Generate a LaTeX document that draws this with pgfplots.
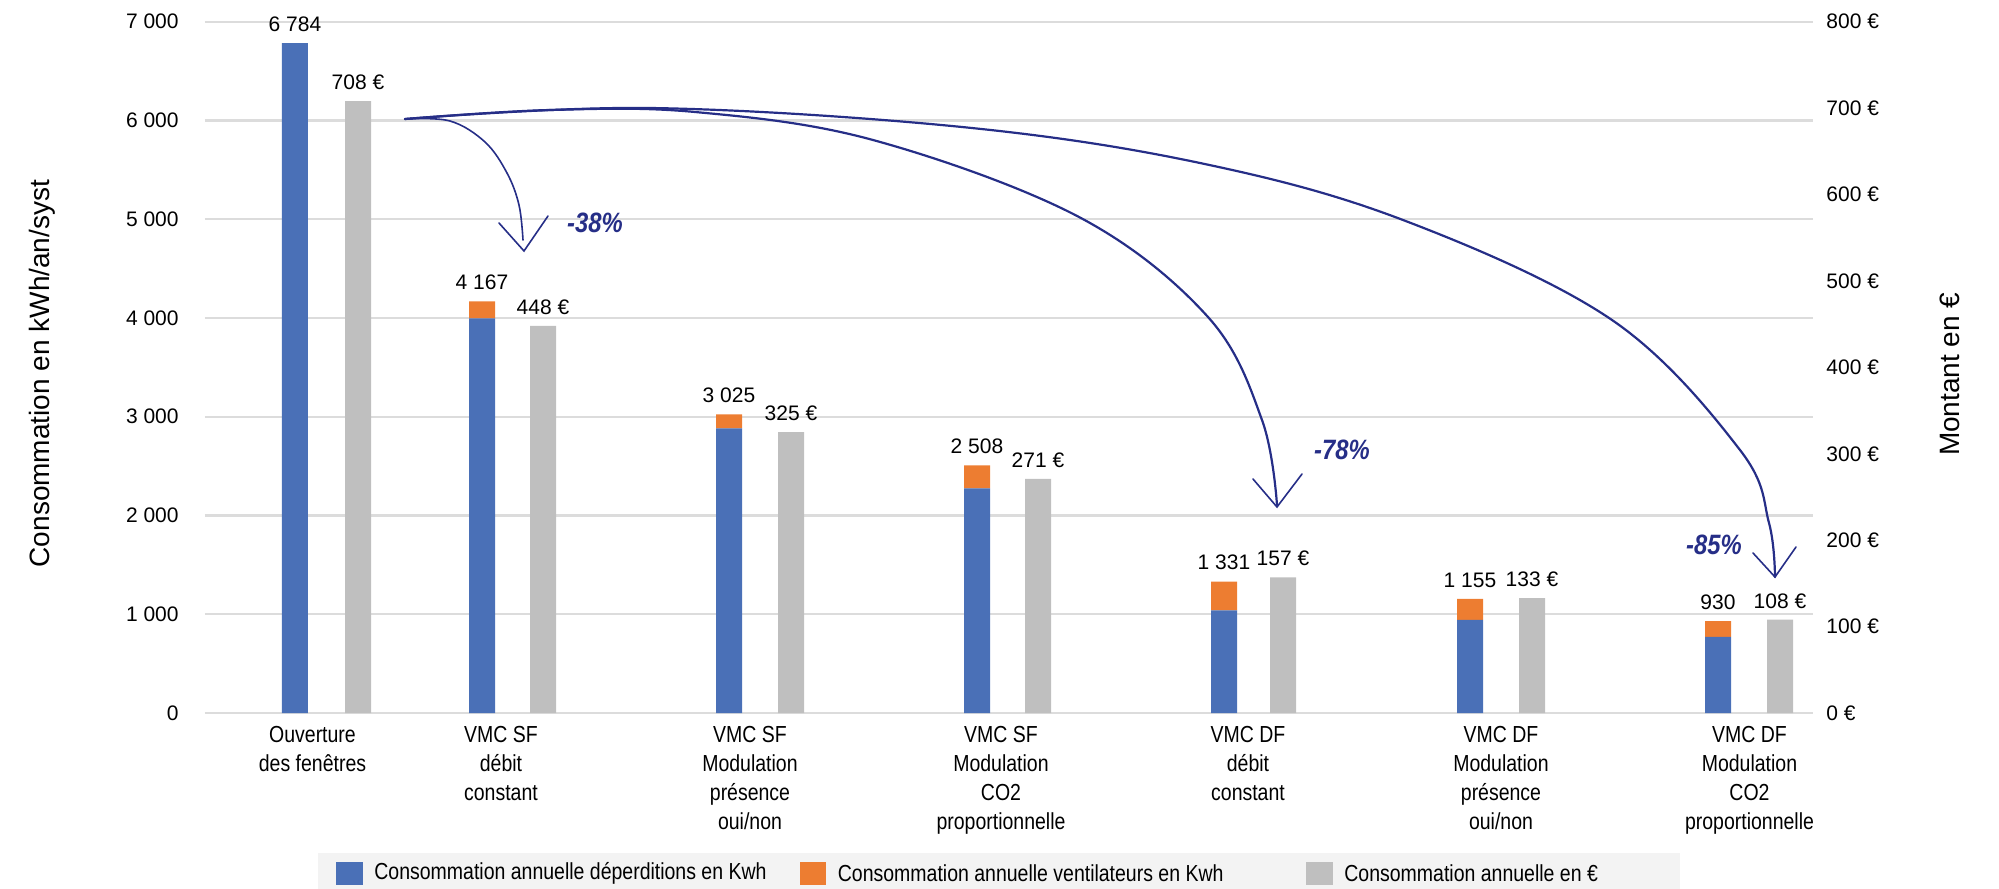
\documentclass[border=0pt]{standalone}
\usepackage{fontspec}
\setmainfont{Liberation Sans}
\newfontfamily\narrow{Liberation Sans}[FakeStretch=0.84]
\newfontfamily\hand{Liberation Sans}[FakeStretch=0.85]
\usepackage{pgfplots}
\pgfplotsset{compat=1.18}
\usepackage{pgfplotstable}

\definecolor{cblue}{RGB}{74,112,183}
\definecolor{corange}{RGB}{237,125,49}
\definecolor{cgray}{RGB}{191,191,191}
\definecolor{cgrid}{RGB}{220,220,220}
\definecolor{clegbg}{RGB}{243,243,243}
\definecolor{cnavy}{RGB}{38,46,135}

\newcommand{\tfont}{\fontsize{10.5}{12.6}\selectfont}
\newcommand{\cfont}{\narrow\fontsize{11.6}{14.5}\selectfont}

\pgfplotstableread{
x blue orange tot lab
295 6784 0 6784 {6 784}
482 3995 172 4167 {4 167}
729 2882 143 3025 {3 025}
977 2275 233 2508 {2 508}
1224 1039 292 1331 {1 331}
1470 943 212 1155 {1 155}
1718 770 160 930 {930}
}\kwh

\pgfplotstableread{
x eur lab
358 708 {708 €}
543 448 {448 €}
791 325 {325 €}
1038 271 {271 €}
1283 157 {157 €}
1532 133 {133 €}
1780 108 {108 €}
}\eur

\pgfplotsset{
  base/.style={
    at={(102.5pt,-356.5pt)}, anchor=south west,
    scale only axis, width=804pt, height=345.65pt,
    clip=false, xmin=205, xmax=1813,
    axis line style={draw=none}, major tick length=0pt,
    nodes near coords style={font=\tfont, anchor=south, inner sep=0pt, yshift=5.5pt, text=black},
  }
}

\begin{document}
\begin{tikzpicture}
\path[use as bounding box] (0,0) rectangle (999.5pt,-444.5pt);
\begin{axis}[
  base, ymin=0, ymax=7000,
  ybar stacked, bar width=13pt,
  ytick={0,1000,...,7000},
  yticklabels={0,{1 000},{2 000},{3 000},{4 000},{5 000},{6 000},{7 000}},
  yticklabel style={font=\tfont, inner sep=0pt, xshift=-13pt},
  ymajorgrids, grid style={line width=1.2pt, cgrid},
  xtick={312.5,501,750,1001,1248,1501,1749.5},
  xticklabels={{Ouverture\\des fenêtres},{VMC SF\\débit\\constant},{VMC SF\\Modulation\\présence\\oui/non},{VMC SF\\Modulation\\CO2\\proportionnelle},{VMC DF\\débit\\constant},{VMC DF\\Modulation\\présence\\oui/non},{VMC DF\\Modulation\\CO2\\proportionnelle}},
  xticklabel style={font=\cfont, align=center, yshift=-3pt},
  ylabel={Consommation en kWh/an/syst},
  ylabel style={font=\fontsize{14}{16}\selectfont, at={(axis description cs:-0.1014,0.491)}, anchor=center},
]
\addplot[fill=cblue, draw=none] table[x=x, y=blue] {\kwh};
\addplot[fill=corange, draw=none] table[x=x, y=orange] {\kwh};
\end{axis}
\begin{axis}[
  base, ymin=0, ymax=7000, hide axis,
]
\addplot[draw=none, mark=none, nodes near coords, point meta=explicit symbolic] table[x=x, y=tot, meta=lab] {\kwh};
\end{axis}
\begin{axis}[
  base, ymin=0, ymax=800,
  hide x axis,
  yticklabel pos=right,
  ytick={0,100,...,800},
  yticklabels={0 €,100 €,200 €,300 €,400 €,500 €,600 €,700 €,800 €},
  yticklabel style={font=\tfont, inner sep=0pt, xshift=6.5pt},
  ylabel={Montant en €},
  ylabel style={font=\fontsize{14}{16}\selectfont, at={(axis description cs:1.0849,0.49)}, anchor=center},
]
\addplot[ybar, bar width=13pt, bar shift=0pt, fill=cgray, draw=none, nodes near coords, point meta=explicit symbolic] table[x=x, y=eur, meta=lab] {\eur};
\end{axis}
\begin{scope}[x=0.5pt,y=-0.5pt]
  % legend
  \fill[clegbg] (318,853) rectangle (1680,889);
  \fill[cblue] (336,862) rectangle (363,885);
  \fill[corange] (799.5,862) rectangle (826,885);
  \fill[cgray] (1306,862) rectangle (1333,885);
  \node[anchor=west, inner sep=0pt, font=\cfont] at (374,873.5) {Consommation annuelle déperditions en Kwh};
  \node[anchor=west, inner sep=0pt, font=\cfont] at (837.5,873.5) {Consommation annuelle ventilateurs en Kwh};
  \node[anchor=west, inner sep=0pt, font=\cfont] at (1344,873.5) {Consommation annuelle en €};
  % annotations
  \draw[cnavy, line width=0.8pt, line cap=round] plot[smooth, tension=0.6] coordinates {(405,119) (450,121) (485,142) (507,173) (519,205) (523,240)};
  \draw[cnavy, line width=0.8pt, line cap=round, line join=miter] (499,223) -- (524,251) -- (548,216);
  \draw[cnavy, line width=1.1pt, line cap=round] plot[smooth, tension=0.6] coordinates {(405,119) (550,110) (695,112) (873,140) (1079,217) (1208,317) (1262,420) (1277,505)};
  \draw[cnavy, line width=0.8pt, line cap=round] (1253,479) -- (1277,507) -- (1302,474);
  \draw[cnavy, line width=1.1pt, line cap=round] plot[smooth, tension=0.6] coordinates {(405,119) (650,108) (962,127) (1200,163) (1403,220) (1612,320) (1740,450) (1769,523) (1775,577)};
  \draw[cnavy, line width=0.8pt, line cap=round] (1753,553) -- (1775,577) -- (1796,547);
  \node[cnavy, font=\hand\bfseries\itshape\fontsize{14}{16}\selectfont] at (595,223) {-38\%};
  \node[cnavy, font=\hand\bfseries\itshape\fontsize{14}{16}\selectfont] at (1342,450) {-78\%};
  \node[cnavy, font=\hand\bfseries\itshape\fontsize{14}{16}\selectfont] at (1714,545) {-85\%};
\end{scope}
\end{tikzpicture}
\end{document}
